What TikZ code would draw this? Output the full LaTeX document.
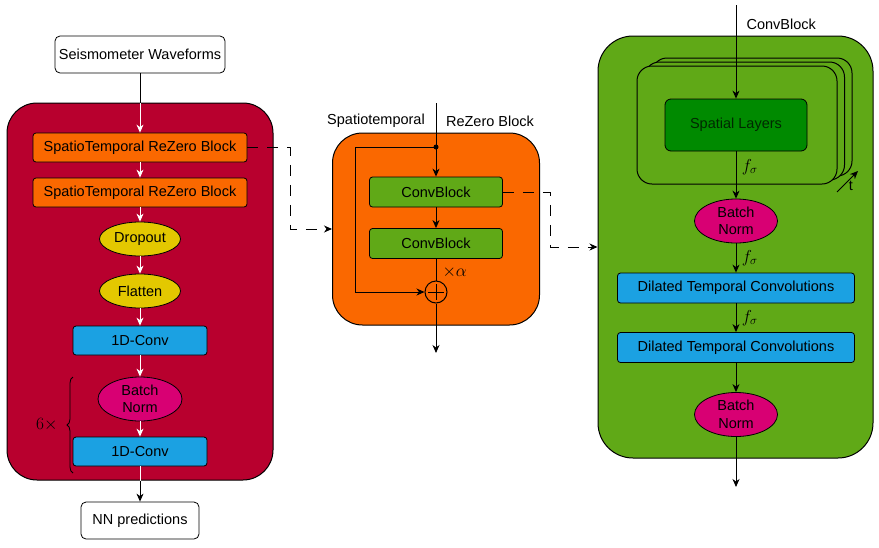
\documentclass[tikz,border=0pt]{standalone}
\usepackage{fontspec}
\setmainfont{Liberation Sans}
\usetikzlibrary{arrows.meta,decorations.pathreplacing,shapes.geometric}
\definecolor{crimsonbg}{RGB}{184,0,46}
\definecolor{orangebg}{RGB}{250,104,0}
\definecolor{yellowbg}{RGB}{227,200,0}
\definecolor{bluebg}{RGB}{27,161,226}
\definecolor{magentabg}{RGB}{216,0,115}
\definecolor{greenbg}{RGB}{96,169,23}
\definecolor{darkgreenbg}{RGB}{0,138,0}
\tikzset{
  every node/.style={font=\fontsize{14.5}{17.5}\selectfont},
  mathlbl/.style={font=\fontsize{17}{20}\selectfont},
  bigbox/.style={draw, line width=1pt, rounded corners=30pt, inner sep=0pt},
  blk/.style={draw, line width=0.8pt, rounded corners=3pt, inner sep=0pt, minimum height=29pt},
  oval/.style={draw, ellipse, line width=0.8pt, inner sep=0pt, align=center},
  arr/.style={-{Stealth[length=8pt,width=7pt,inset=2.5pt]}, line width=1pt},
  warr/.style={arr, white},
  dashln/.style={arr, dash pattern=on 11pt off 9pt}
}
\begin{document}
\begin{tikzpicture}[x=1pt,y=-1pt]
\useasboundingbox (0,0) rectangle (879,547);
% left column
\node[bigbox, fill=crimsonbg, minimum width=266pt, minimum height=377pt] (net) at (140,291.5) {};
\node[blk, rounded corners=5pt, fill=white, minimum width=170pt, minimum height=37pt] (seis) at (140,54.5) {Seismometer Waveforms};
\node[blk, fill=orangebg, minimum width=214pt] (st1) at (140,147.5) {SpatioTemporal ReZero Block};
\node[blk, fill=orangebg, minimum width=214pt] (st2) at (140,192.5) {SpatioTemporal ReZero Block};
\node[oval, fill=yellowbg, minimum width=81pt, minimum height=34pt] (drop) at (140,239) {Dropout};
\node[oval, fill=yellowbg, minimum width=81pt, minimum height=34pt] (flat) at (140,291) {Flatten};
\node[blk, fill=bluebg, minimum width=134pt] (conv1) at (140,340.5) {1D-Conv};
\node[oval, fill=magentabg, minimum width=84pt, minimum height=44pt] (bn) at (140,399) {Batch\\Norm};
\node[blk, fill=bluebg, minimum width=134pt] (conv2) at (140,451.5) {1D-Conv};
\node[blk, rounded corners=5pt, fill=white, minimum width=118pt, minimum height=37pt] (pred) at (140,520.5) {NN predictions};
\draw[line width=1pt] (seis) -- (seis |- net.north);
\draw[warr] (seis |- net.north) -- (st1);
\draw[warr] (st1) -- (st2);
\draw[warr] (st2) -- (drop);
\draw[warr] (drop) -- (flat);
\draw[warr] (flat) -- (conv1);
\draw[warr] (conv1) -- (bn);
\draw[warr] (bn) -- (conv2);
\draw[white, line width=1pt] (conv2) -- (conv2 |- net.south);
\draw[arr] (conv2 |- net.south) -- (pred);
\draw[line width=0.8pt, decorate, decoration={brace, amplitude=6pt}] (73,473) -- (73,377);
\node[mathlbl, left] (rep) at (61,425) {$6\times$};
% middle block
\node[bigbox, fill=orangebg, minimum width=207pt, minimum height=192pt] (stz) at (436,229) {};
\node (stzl) at (376,121) {Spatiotemporal};
\node (stzr) at (490,121) {ReZero Block};
\node[blk, fill=greenbg, minimum width=133pt, minimum height=30pt] (cb1) at (436,192) {ConvBlock};
\node[blk, fill=greenbg, minimum width=133pt, minimum height=30pt] (cb2) at (436,243.5) {ConvBlock};
\node[draw, circle, line width=1pt, minimum size=22pt, inner sep=0pt] (plus) at (436,292) {};
\draw[line width=1pt] ([yshift=-8pt]plus.center) -- ([yshift=8pt]plus.center)
  ([xshift=-8pt]plus.center) -- ([xshift=8pt]plus.center);
\coordinate (inz) at (436,103);
\coordinate (dot) at (436,147);
\coordinate (skip) at (355,292);
\coordinate (outz) at (436,353);
\draw[line width=1pt] (inz) -- (dot);
\fill (dot) circle (2.5);
\draw[arr] (dot) -- (cb1);
\draw[arr] (cb1) -- (cb2);
\draw[arr] (dot) -| (skip) -- (plus);
\draw[line width=1pt] (cb2) -- (plus);
\node[mathlbl, anchor=west] (alpha) at (439,272) {$\times\alpha$};
\draw[arr] (plus) -- (outz);
\coordinate (d1) at (290,229);
\draw[dashln] (st1.east) -| (d1) -- (stz.west);
% convblock
\node[bigbox, rounded corners=35pt, fill=greenbg, minimum width=275pt, minimum height=422pt] (cblk) at (735.5,247) {};
\foreach \d in {2,1,0}
  \node[draw, line width=1pt, rounded corners=15pt, fill=greenbg, minimum width=200pt, minimum height=118pt, inner sep=0pt]
    (lyr\d) at (737+7.5*\d,125-4*\d) {};
\node[blk, rounded corners=6pt, fill=darkgreenbg, text=black!70!darkgreenbg, minimum width=142pt, minimum height=52pt] (spat) at (736,125) {Spatial Layers};
\node[anchor=west] (cbl) at (743,24) {ConvBlock};
\node[oval, fill=magentabg, minimum width=83pt, minimum height=44pt] (bn1) at (736,221) {Batch\\Norm};
\node[blk, fill=bluebg, minimum width=237pt, minimum height=30pt] (dtc1) at (736,288) {Dilated Temporal Convolutions};
\node[blk, fill=bluebg, minimum width=237pt, minimum height=30pt] (dtc2) at (736,347.5) {Dilated Temporal Convolutions};
\node[oval, fill=magentabg, minimum width=83pt, minimum height=44pt] (bn2) at (736,414.5) {Batch\\Norm};
\coordinate (incb) at (736,5);
\coordinate (outcb) at (736,487);
\draw[arr] (incb) -- (spat);
\draw[arr] (spat) -- (bn1) node[mathlbl, pos=0.33, right=2pt] {$f_\sigma$};
\draw[arr] (bn1) -- (dtc1) node[mathlbl, midway, right=2pt] {$f_\sigma$};
\draw[arr] (dtc1) -- (dtc2) node[mathlbl, midway, right=2pt] {$f_\sigma$};
\draw[arr] (dtc2) -- (bn2);
\draw[arr] (bn2) -- (outcb);
\coordinate (t0) at (837,192);
\coordinate (t1) at (858,171);
\draw[arr] (t0) -- (t1);
\node (tl) at (851,186) {t};
\coordinate (d2) at (550,247);
\draw[dashln] (cb1.east) -| (d2) -- (cblk.west);
\end{tikzpicture}
\end{document}
